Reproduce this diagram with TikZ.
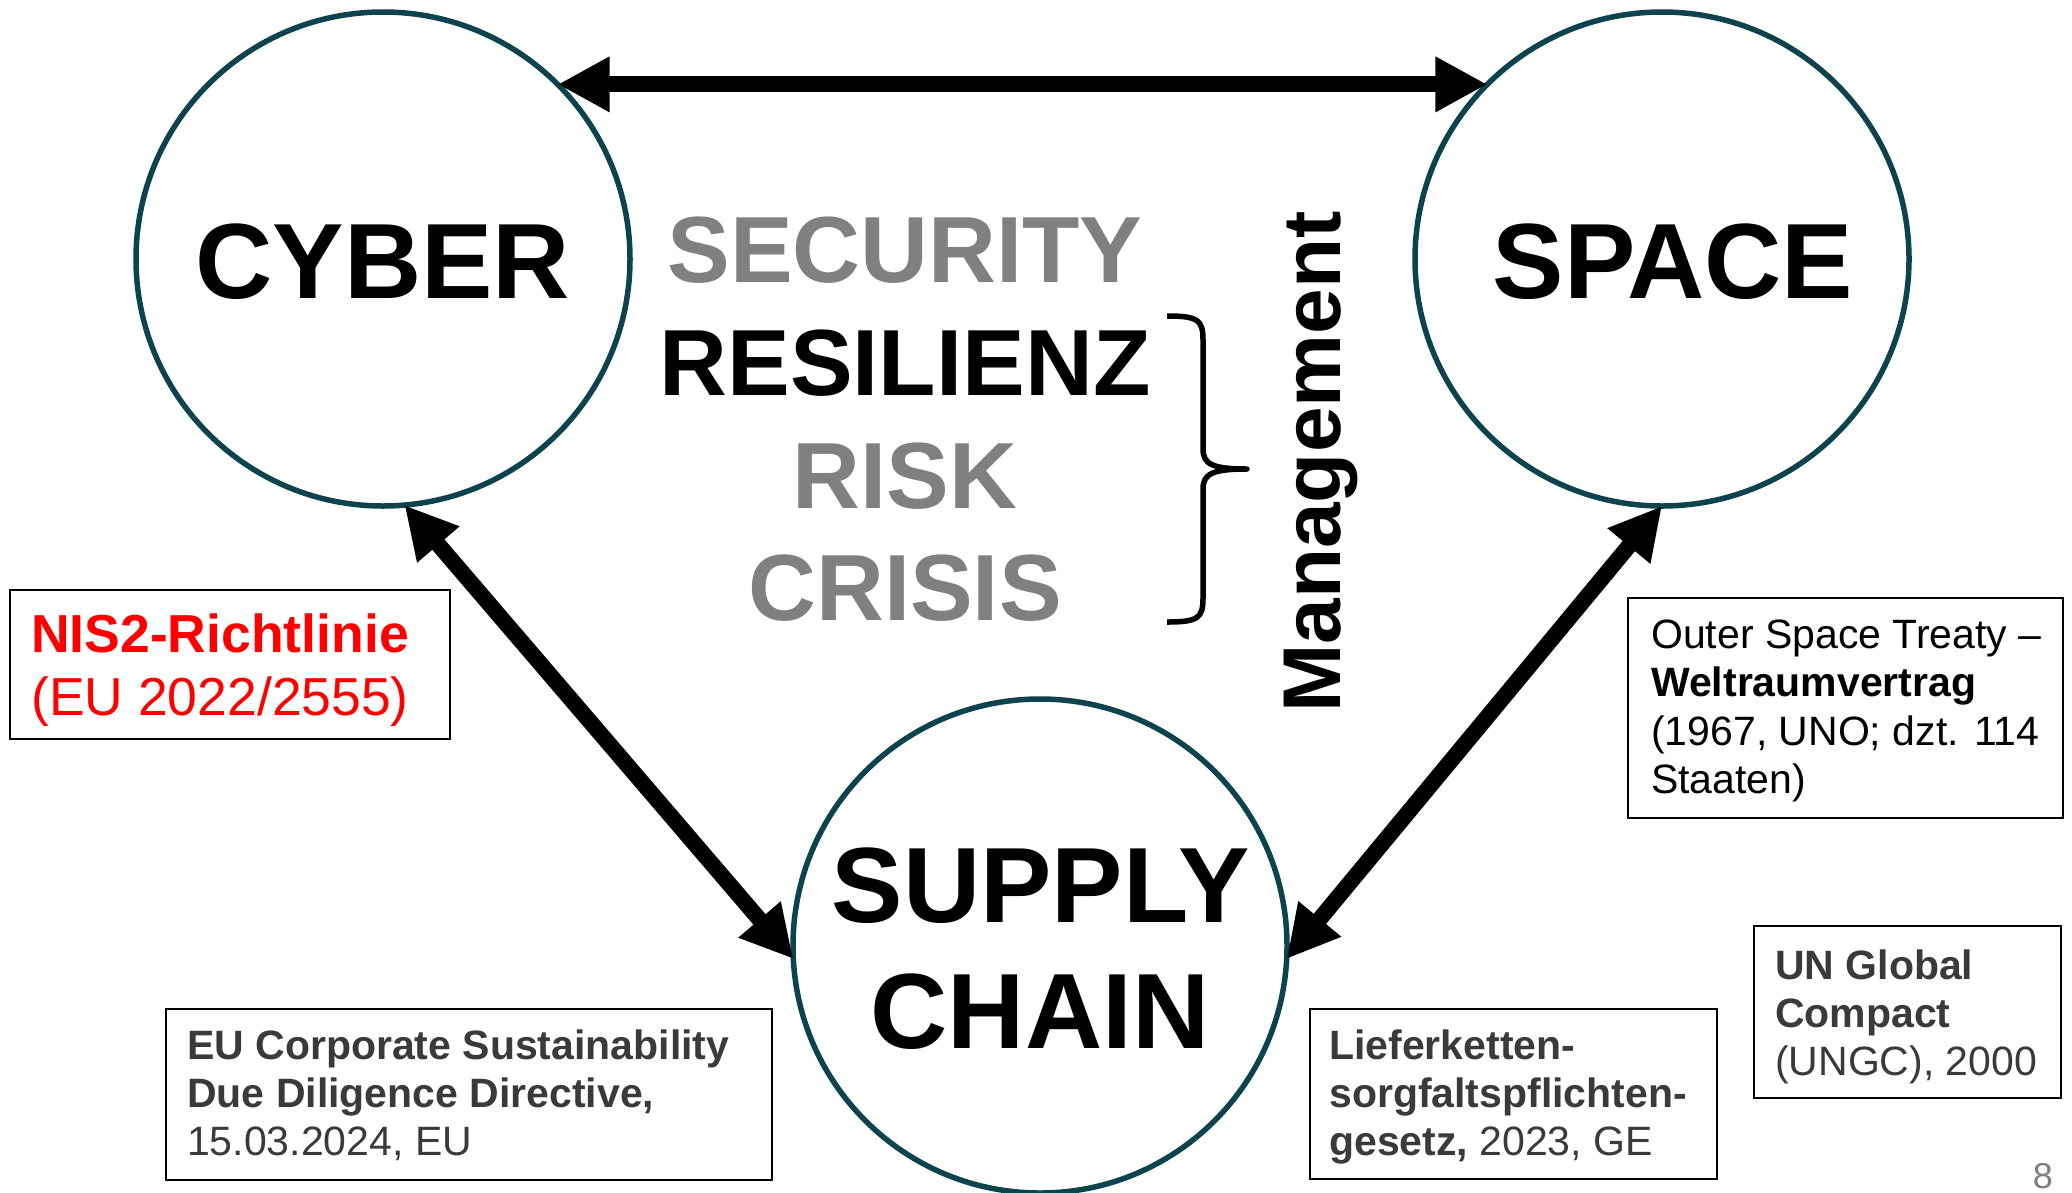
\documentclass[tikz,border=0pt]{standalone}
\usepackage{fontspec}
\setmainfont{Liberation Sans}
\usetikzlibrary{arrows.meta}
\definecolor{ringcol}{HTML}{0D434D}
\definecolor{midgray}{HTML}{808080}
\definecolor{boxtext}{HTML}{3A3A3A}
\definecolor{pagegray}{HTML}{7F7F7F}
\begin{document}
\begin{tikzpicture}[x=1pt,y=-1pt,
  ring/.style={circle, draw=ringcol, line width=5.5pt, minimum size=494pt, inner sep=0pt, outer sep=0pt},
  big/.style={font=\fontsize{107}{127}\selectfont\bfseries, inner sep=0pt, anchor=base},
  mid/.style={font=\fontsize{94}{113}\selectfont\bfseries, inner sep=0pt, anchor=base},
  fatarrow/.style={line width=16pt, {Triangle[length=52pt,width=52pt]}-{Triangle[length=52pt,width=52pt]}},
  infobox/.style={draw=black, line width=2pt, inner sep=0pt, outer sep=0pt, anchor=north west},
  infotext/.style={inner sep=0pt, anchor=base west},
]
\fill[white] (0,0) rectangle (2072,1192);
\useasboundingbox (0,0) rectangle (2072,1192);

% circles
\node[ring] (cyber) at (383,259) {};
\node[ring] (space) at (1662,259) {};
\node[ring] (supply) at (1040,946) {};

% circle labels
\node[big] (cyberlbl) at (383,298) {CYBER};
\node[big] (spacelbl) at (1673,298) {SPACE};
\node[big] (supplylbl) at (1041,922) {SUPPLY};
\node[big] (chainlbl) at (1040,1048) {CHAIN};

% connectors
\draw[fatarrow] (cyber.45) -- (space.135);
\draw[fatarrow] (cyber.-85) -- (supply.183.5);
\draw[fatarrow] (space.-90.5) -- (supply.-3.5);

% middle words
\node[mid, text=midgray] (security) at (905,282) {SECURITY};
\node[mid] (resilienz) at (905,395) {RESILIENZ};
\node[mid, text=midgray] (risk) at (905,508) {RISK};
\node[mid, text=midgray] (crisis) at (905,620) {CRISIS};

% brace
\draw[line width=5.5pt, line join=round]
  (1167,316) .. controls (1198,316) and (1203,320) .. (1203,340)
  -- (1203,449) .. controls (1203,464) and (1212,469) .. (1247,469)
  .. controls (1212,469) and (1203,474) .. (1203,489)
  -- (1203,598) .. controls (1203,618) and (1198,622) .. (1167,622);

% Management
\node[rotate=90, anchor=base, inner sep=0pt, font=\fontsize{82}{98}\selectfont\bfseries] (mgmt) at (1340,462) {Management};

% NIS2 box
\node[infobox, minimum width=440pt, minimum height=149pt] (nisbox) at (10,590) {};
\node[infotext, text=red] (nistext) at (31,652)
  {\parbox[t]{420pt}{\fontsize{53.5}{63}\selectfont\textbf{NIS2-Richtlinie}\\(EU 2022/2555)}};

% EU CSDDD box
\node[infobox, minimum width=606pt, minimum height=171pt] (eubox) at (166,1009) {};
\node[infotext, text=boxtext] (eutext) at (187,1059)
  {\parbox[t]{580pt}{\fontsize{41}{48}\selectfont\textbf{EU Corporate Sustainability}\\\textbf{Due Diligence Directive,}\\15.03.2024, EU}};

% Lieferketten box
\node[infobox, minimum width=407pt, minimum height=170pt] (lkbox) at (1310,1009) {};
\node[infotext, text=boxtext] (lktext) at (1329,1059)
  {\parbox[t]{390pt}{\fontsize{41}{48}\selectfont\textbf{Lieferketten-}\\\textbf{sorgfaltspflichten-}\\\textbf{gesetz,} 2023, GE}};

% UN Global Compact box
\node[infobox, minimum width=307pt, minimum height=172pt] (unbox) at (1754,926) {};
\node[infotext, text=boxtext] (untext) at (1775,979)
  {\parbox[t]{290pt}{\fontsize{41}{48}\selectfont\textbf{UN Global}\\\textbf{Compact}\\(UNGC), 2000}};

% Outer Space Treaty box
\node[infobox, minimum width=435pt, minimum height=220pt] (ostbox) at (1628,598) {};
\node[infotext, text=black] (osttext) at (1651,648)
  {\parbox[t]{420pt}{\fontsize{41}{48.5}\selectfont Outer Space Treaty –\\\textbf{Weltraumvertrag}\\(1967, UNO; dzt. 114\\Staaten)}};

% page number
\node[anchor=base east, inner sep=0pt, text=pagegray, font=\fontsize{36}{42}\selectfont] (pagenum) at (2053,1188) {8};
\end{tikzpicture}
\end{document}
